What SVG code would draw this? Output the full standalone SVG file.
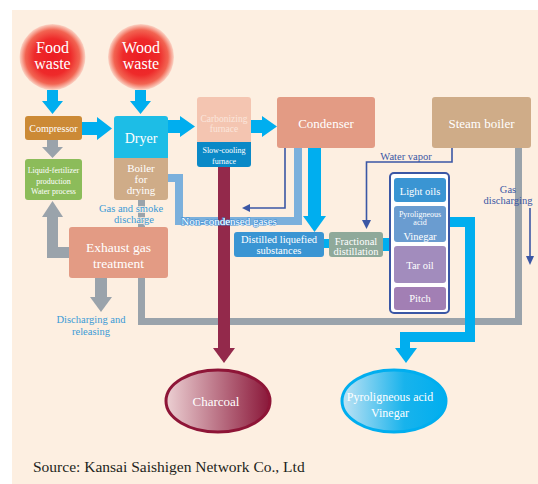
<svg xmlns="http://www.w3.org/2000/svg" width="538" height="484" viewBox="0 0 538 484">
<defs>
<radialGradient id="red" cx="0.5" cy="0.5" r="0.5">
<stop offset="0" stop-color="#ec1c24"/>
<stop offset="0.55" stop-color="#ee2a2a"/>
<stop offset="0.82" stop-color="#f26452"/>
<stop offset="1" stop-color="#fbd5c6"/>
</radialGradient>
<linearGradient id="coal" x1="0" y1="0" x2="1" y2="0">
<stop offset="0" stop-color="#ecd0d3"/>
<stop offset="1" stop-color="#8a1739"/>
</linearGradient>
<linearGradient id="vin" x1="0" y1="0" x2="1" y2="0">
<stop offset="0" stop-color="#c0e3f4"/>
<stop offset="0.6" stop-color="#18b3ec"/>
<stop offset="1" stop-color="#00aeef"/>
</linearGradient>
<style>
text{font-family:"Liberation Serif","Times New Roman",serif;text-anchor:middle}
.w{fill:#ffffff}
.lbl{fill:#3a9ad6;font-size:10.5px}
.dk{fill:#3b57a5;font-size:10.5px}
.blue{fill:#00aeef}
.gray{fill:#9aa3ab}
.gs{fill:none;stroke:#9aa3ab}
.thin{fill:none;stroke:#3b57a5;stroke-width:1.6}
</style>
</defs>
<rect x="12" y="10" width="526" height="474" fill="#fdefe1"/>

<g id="connectors">
<!-- blue arrows -->
<polygon class="blue" points="47,90 58,90 58,101 63,101 52.5,114 42,101 47,101"/>
<polygon class="blue" points="135,90 146,90 146,101 151,101 140.5,114 130,101 135,101"/>
<polygon class="blue" points="82,122 97,122 97,117 112,128.5 97,140 97,135 82,135"/>
<polygon class="blue" points="168,120 180,120 180,116 195,126.5 180,137 180,133 168,133"/>
<polygon class="blue" points="251,120 262,120 262,116 277,126.5 262,137 262,133 251,133"/>
<!-- gray arrows -->
<polygon class="gray" points="47,140 58,140 58,147 63,147 52.5,158 42,147 47,147"/>
<path class="gs" stroke-width="11" d="M69,252.5 H52.5 V216"/>
<polygon class="gray" points="42,217 63,217 52.5,201"/>
<rect class="gray" x="95" y="278" width="12" height="20"/>
<polygon class="gray" points="90,297 112,297 101,312"/>
<rect class="gray" x="138" y="200" width="7" height="27"/>
<path class="gs" stroke-width="7" d="M141.5,278 V321.5 H518.5 V148"/>
<!-- light blue non-condensed -->
<path fill="none" stroke="#7bb0dc" stroke-width="8" d="M168,178 H179 V221 H298 V148"/>
<!-- condenser dark line -->
<path class="thin" d="M285,148 V208 H248"/>
<polygon fill="#3b57a5" points="242,208 250,204 250,212"/>
<!-- condenser blue thick arrow -->
<rect class="blue" x="308" y="148" width="13" height="69"/>
<polygon class="blue" points="303,216 326,216 314.5,232"/>
<!-- water vapor -->
<path class="thin" d="M452,148 V162 H366.5 V222"/>
<polygon fill="#3b57a5" points="362,220 371,220 366.5,229"/>
<!-- gas discharging -->
<path class="thin" d="M530,208 V258"/>
<polygon fill="#3b57a5" points="526,256 534,256 530,265"/>
<!-- charcoal arrow -->
<rect fill="#93294b" x="218" y="167" width="12" height="182"/>
<polygon fill="#93294b" points="213,348 235,348 224,363"/>
<!-- small blue links -->
<rect class="blue" x="324" y="239" width="6" height="9"/>
<rect class="blue" x="383" y="238" width="8" height="13"/>
<!-- vinegar path -->
<path fill="none" stroke="#00aeef" stroke-width="10" d="M446,222 H470 V337 H405 V350"/>
<polygon class="blue" points="395,348 417,348 406,363"/>
</g>

<g id="food-waste">
<circle cx="52.5" cy="57" r="33" fill="url(#red)"/>
<text class="w" x="52.5" y="53" font-size="16">Food</text>
<text class="w" x="52.5" y="69" font-size="16">waste</text>
</g>
<g id="wood-waste">
<circle cx="141" cy="57" r="33" fill="url(#red)"/>
<text class="w" x="141" y="53" font-size="16">Wood</text>
<text class="w" x="141" y="69" font-size="16">waste</text>
</g>
<g id="compressor">
<rect x="25" y="116" width="57" height="24" rx="3" fill="#cc8a36"/>
<text class="w" x="53.5" y="131.5" font-size="10">Compressor</text>
</g>
<g id="liquid-fertilizer">
<rect x="25" y="159" width="57" height="41" rx="3" fill="#8cbc5a"/>
<text class="w" x="53.5" y="173" font-size="8">Liquid-fertilizer</text>
<text class="w" x="53.5" y="183.5" font-size="8">production</text>
<text class="w" x="53.5" y="194" font-size="8">Water process</text>
</g>
<g id="dryer">
<path d="M114,158 V119 a3,3 0 0 1 3,-3 H165 a3,3 0 0 1 3,3 V158 Z" fill="#1dbde6"/>
<text class="w" x="141" y="143" font-size="14">Dryer</text>
</g>
<g id="boiler-for-drying">
<path d="M114,158 H168 V197 a3,3 0 0 1 -3,3 H117 a3,3 0 0 1 -3,-3 Z" fill="#cfac88"/>
<text class="w" x="141" y="172" font-size="11">Boiler</text>
<text class="w" x="141" y="183" font-size="11">for</text>
<text class="w" x="141" y="193.5" font-size="11">drying</text>
</g>
<g id="carbonizing-furnace">
<path d="M197,142 V100 a3,3 0 0 1 3,-3 H248 a3,3 0 0 1 3,3 V142 Z" fill="#f4c5b1"/>
<text x="224" y="122" font-size="9.5" fill="#fbe6dc">Carbonizing</text>
<text x="224" y="131.5" font-size="9.5" fill="#fbe6dc">furnace</text>
</g>
<g id="slow-cooling-furnace">
<path d="M197,142 H251 V164 a3,3 0 0 1 -3,3 H200 a3,3 0 0 1 -3,-3 Z" fill="#0a89c7"/>
<text class="w" x="224" y="153" font-size="8">Slow-cooling</text>
<text class="w" x="224" y="164" font-size="8">furnace</text>
</g>
<g id="condenser">
<rect x="277" y="97" width="98" height="51" rx="3" fill="#e39b84"/>
<text class="w" x="326" y="127.5" font-size="13">Condenser</text>
</g>
<g id="steam-boiler">
<rect x="432" y="97" width="99" height="51" rx="3" fill="#cfac88"/>
<text class="w" x="481.5" y="127.5" font-size="13">Steam boiler</text>
</g>
<g id="exhaust-gas-treatment">
<rect x="69" y="227" width="99" height="51" rx="3" fill="#e39b84"/>
<text class="w" x="118.5" y="252" font-size="13.5">Exhaust gas</text>
<text class="w" x="118.5" y="267.5" font-size="13.5">treatment</text>
</g>
<g id="distilled-liquefied-substances">
<rect x="234" y="232" width="90" height="25" rx="3" fill="#3a95d3"/>
<text class="w" x="279" y="243" font-size="10.5">Distilled liquefied</text>
<text class="w" x="279" y="253.5" font-size="10.5">substances</text>
</g>
<g id="fractional-distillation">
<rect x="329" y="232" width="54" height="25" rx="3" fill="#8fa99a"/>
<text class="w" x="356" y="244.5" font-size="10.5">Fractional</text>
<text class="w" x="356" y="254.5" font-size="10.5">distillation</text>
</g>
<g id="products">
<rect x="390" y="173" width="59" height="140" rx="4" fill="#ffffff" stroke="#3b57a5" stroke-width="2"/>
<g id="light-oils">
<rect x="394" y="178" width="52" height="24" rx="3" fill="#3a95d3"/>
<text class="w" x="420" y="194.5" font-size="10.5">Light oils</text>
</g>
<g id="pyroligneous-acid-vinegar">
<rect x="394" y="206" width="52" height="36" rx="3" fill="#6a9cd0"/>
<text class="w" x="420" y="216.5" font-size="8">Pyroligneous</text>
<text class="w" x="420" y="224.5" font-size="8">acid</text>
<text class="w" x="420" y="239.5" font-size="10.5">Vinegar</text>
</g>
<g id="tar-oil">
<rect x="394" y="246" width="52" height="37" rx="3" fill="#a28cbd"/>
<text class="w" x="420" y="268.5" font-size="10.5">Tar oil</text>
</g>
<g id="pitch">
<rect x="394" y="287" width="52" height="23" rx="3" fill="#a27fb4"/>
<text class="w" x="420" y="302" font-size="10.5">Pitch</text>
</g>
</g>
<g id="charcoal">
<ellipse cx="218" cy="401" rx="52" ry="31" fill="url(#coal)" stroke="#8e1537" stroke-width="3"/>
<text class="w" x="216" y="406" font-size="13">Charcoal</text>
</g>
<g id="pyroligneous-acid-output">
<ellipse cx="394" cy="401" rx="52" ry="31" fill="url(#vin)" stroke="#00aeef" stroke-width="3"/>
<text class="w" x="390" y="400.5" font-size="12">Pyroligneous acid</text>
<text class="w" x="390" y="417" font-size="12">Vinegar</text>
</g>

<g id="labels">
<text class="lbl" x="131" y="212" stroke="#fdefe1" stroke-width="1.5" paint-order="stroke">Gas and smoke</text>
<text class="lbl" x="134" y="222.5" stroke="#fdefe1" stroke-width="1.5" paint-order="stroke">discharge</text>
<text x="229" y="225" font-size="11" fill="#ffffff" stroke="#3d8fd6" stroke-width="1.2" paint-order="stroke">Non-condensed gases</text>
<text class="dk" x="406" y="159.5">Water vapor</text>
<text class="dk" x="508" y="192.5">Gas</text>
<text class="dk" x="508" y="203.5">discharging</text>
<text class="lbl" x="91" y="323">Discharging and</text>
<text class="lbl" x="91" y="334.5">releasing</text>
<text x="33" y="472" font-size="15.5" fill="#231f20" style="text-anchor:start">Source: Kansai Saishigen Network Co., Ltd</text>
</g>
</svg>
